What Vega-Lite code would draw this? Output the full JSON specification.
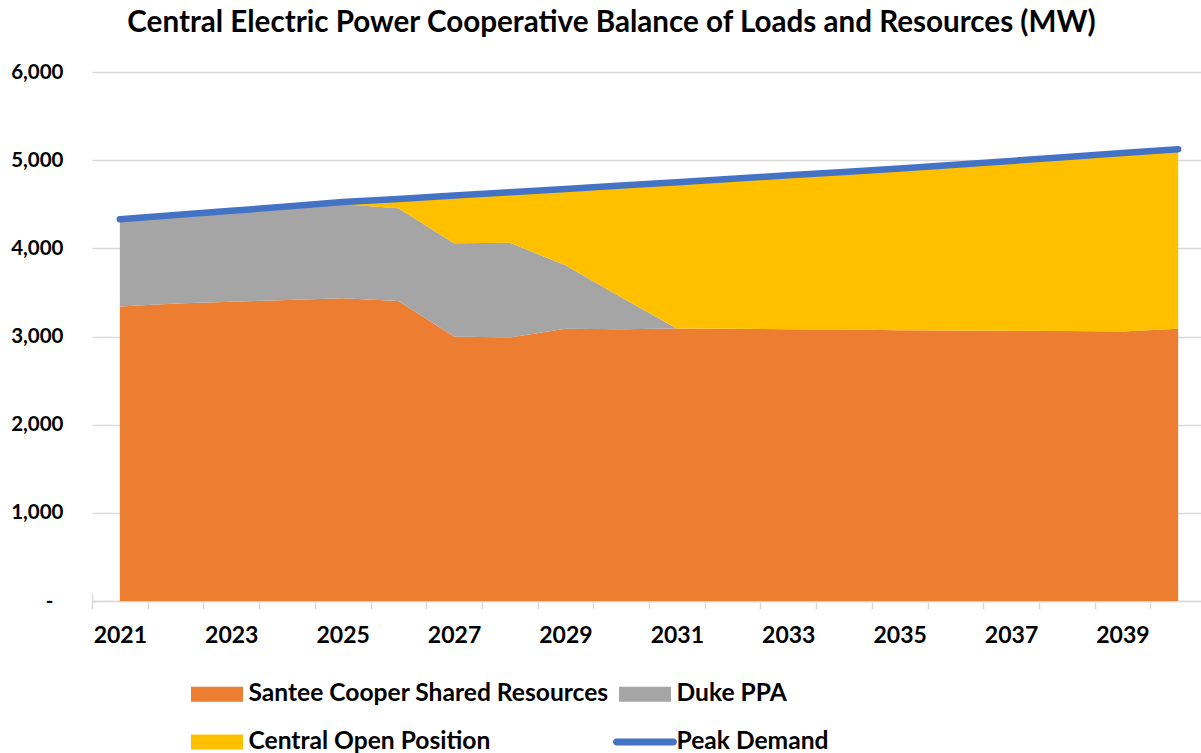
{
  "$schema": "https://vega.github.io/schema/vega-lite/v6.json",
  "width": 1109,
  "height": 529,
  "autosize": {"type": "none"},
  "padding": {"left": 92, "top": 72, "right": 0, "bottom": 152},
  "background": "white",
  "title": {
    "text": "Central Electric Power Cooperative Balance of Loads and Resources (MW)",
    "font": "Lato",
    "fontSize": 29.6,
    "fontWeight": "bold",
    "color": "#000000",
    "anchor": "middle",
    "baseline": "alphabetic",
    "dx": -35,
    "offset": 0
  },
  "config": {
    "view": {"stroke": null},
    "font": "Lato"
  },
  "datasets": {
    "areas": [
      {"year": 2021, "series": "Santee Cooper Shared Resources", "k": 1, "mw": 3341},
      {"year": 2022, "series": "Santee Cooper Shared Resources", "k": 1, "mw": 3375},
      {"year": 2023, "series": "Santee Cooper Shared Resources", "k": 1, "mw": 3395},
      {"year": 2024, "series": "Santee Cooper Shared Resources", "k": 1, "mw": 3415},
      {"year": 2025, "series": "Santee Cooper Shared Resources", "k": 1, "mw": 3433},
      {"year": 2026, "series": "Santee Cooper Shared Resources", "k": 1, "mw": 3402},
      {"year": 2027, "series": "Santee Cooper Shared Resources", "k": 1, "mw": 3000},
      {"year": 2028, "series": "Santee Cooper Shared Resources", "k": 1, "mw": 2989},
      {"year": 2029, "series": "Santee Cooper Shared Resources", "k": 1, "mw": 3087},
      {"year": 2030, "series": "Santee Cooper Shared Resources", "k": 1, "mw": 3083},
      {"year": 2031, "series": "Santee Cooper Shared Resources", "k": 1, "mw": 3090},
      {"year": 2032, "series": "Santee Cooper Shared Resources", "k": 1, "mw": 3088},
      {"year": 2033, "series": "Santee Cooper Shared Resources", "k": 1, "mw": 3083},
      {"year": 2034, "series": "Santee Cooper Shared Resources", "k": 1, "mw": 3078},
      {"year": 2035, "series": "Santee Cooper Shared Resources", "k": 1, "mw": 3072},
      {"year": 2036, "series": "Santee Cooper Shared Resources", "k": 1, "mw": 3068},
      {"year": 2037, "series": "Santee Cooper Shared Resources", "k": 1, "mw": 3064},
      {"year": 2038, "series": "Santee Cooper Shared Resources", "k": 1, "mw": 3062},
      {"year": 2039, "series": "Santee Cooper Shared Resources", "k": 1, "mw": 3058},
      {"year": 2040, "series": "Santee Cooper Shared Resources", "k": 1, "mw": 3088},
      {"year": 2021, "series": "Duke PPA", "k": 2, "mw": 989},
      {"year": 2022, "series": "Duke PPA", "k": 2, "mw": 1003},
      {"year": 2023, "series": "Duke PPA", "k": 2, "mw": 1030},
      {"year": 2024, "series": "Duke PPA", "k": 2, "mw": 1060},
      {"year": 2025, "series": "Duke PPA", "k": 2, "mw": 1067},
      {"year": 2026, "series": "Duke PPA", "k": 2, "mw": 1053},
      {"year": 2027, "series": "Duke PPA", "k": 2, "mw": 1059},
      {"year": 2028, "series": "Duke PPA", "k": 2, "mw": 1074},
      {"year": 2029, "series": "Duke PPA", "k": 2, "mw": 721},
      {"year": 2030, "series": "Duke PPA", "k": 2, "mw": 362},
      {"year": 2031, "series": "Duke PPA", "k": 2, "mw": 0},
      {"year": 2032, "series": "Duke PPA", "k": 2, "mw": 0},
      {"year": 2033, "series": "Duke PPA", "k": 2, "mw": 0},
      {"year": 2034, "series": "Duke PPA", "k": 2, "mw": 0},
      {"year": 2035, "series": "Duke PPA", "k": 2, "mw": 0},
      {"year": 2036, "series": "Duke PPA", "k": 2, "mw": 0},
      {"year": 2037, "series": "Duke PPA", "k": 2, "mw": 0},
      {"year": 2038, "series": "Duke PPA", "k": 2, "mw": 0},
      {"year": 2039, "series": "Duke PPA", "k": 2, "mw": 0},
      {"year": 2040, "series": "Duke PPA", "k": 2, "mw": 0},
      {"year": 2021, "series": "Central Open Position", "k": 3, "mw": 0},
      {"year": 2022, "series": "Central Open Position", "k": 3, "mw": 0},
      {"year": 2023, "series": "Central Open Position", "k": 3, "mw": 0},
      {"year": 2024, "series": "Central Open Position", "k": 3, "mw": 0},
      {"year": 2025, "series": "Central Open Position", "k": 3, "mw": 25},
      {"year": 2026, "series": "Central Open Position", "k": 3, "mw": 105},
      {"year": 2027, "series": "Central Open Position", "k": 3, "mw": 539},
      {"year": 2028, "series": "Central Open Position", "k": 3, "mw": 573},
      {"year": 2029, "series": "Central Open Position", "k": 3, "mw": 866},
      {"year": 2030, "series": "Central Open Position", "k": 3, "mw": 1267},
      {"year": 2031, "series": "Central Open Position", "k": 3, "mw": 1660},
      {"year": 2032, "series": "Central Open Position", "k": 3, "mw": 1701},
      {"year": 2033, "series": "Central Open Position", "k": 3, "mw": 1745},
      {"year": 2034, "series": "Central Open Position", "k": 3, "mw": 1788},
      {"year": 2035, "series": "Central Open Position", "k": 3, "mw": 1833},
      {"year": 2036, "series": "Central Open Position", "k": 3, "mw": 1880},
      {"year": 2037, "series": "Central Open Position", "k": 3, "mw": 1927},
      {"year": 2038, "series": "Central Open Position", "k": 3, "mw": 1973},
      {"year": 2039, "series": "Central Open Position", "k": 3, "mw": 2022},
      {"year": 2040, "series": "Central Open Position", "k": 3, "mw": 2037}
    ],
    "peak": [
      {"year": 2021, "series": "Peak Demand", "mw": 4330},
      {"year": 2022, "series": "Peak Demand", "mw": 4378},
      {"year": 2023, "series": "Peak Demand", "mw": 4425},
      {"year": 2024, "series": "Peak Demand", "mw": 4475},
      {"year": 2025, "series": "Peak Demand", "mw": 4525},
      {"year": 2026, "series": "Peak Demand", "mw": 4560},
      {"year": 2027, "series": "Peak Demand", "mw": 4598},
      {"year": 2028, "series": "Peak Demand", "mw": 4636},
      {"year": 2029, "series": "Peak Demand", "mw": 4674},
      {"year": 2030, "series": "Peak Demand", "mw": 4712},
      {"year": 2031, "series": "Peak Demand", "mw": 4750},
      {"year": 2032, "series": "Peak Demand", "mw": 4789},
      {"year": 2033, "series": "Peak Demand", "mw": 4828},
      {"year": 2034, "series": "Peak Demand", "mw": 4866},
      {"year": 2035, "series": "Peak Demand", "mw": 4905},
      {"year": 2036, "series": "Peak Demand", "mw": 4948},
      {"year": 2037, "series": "Peak Demand", "mw": 4991},
      {"year": 2038, "series": "Peak Demand", "mw": 5035},
      {"year": 2039, "series": "Peak Demand", "mw": 5080},
      {"year": 2040, "series": "Peak Demand", "mw": 5125}
    ]
  },
  "layer": [
    {
      "data": {"name": "areas"},
      "mark": {"type": "area", "interpolate": "linear", "opacity": 1},
      "encoding": {
        "x": {
          "field": "year",
          "type": "quantitative",
          "scale": {"domain": [2020.5, 2040.41], "nice": false, "zero": false},
          "axis": {
            "orient": "bottom",
            "title": null,
            "grid": false,
            "values": [2021, 2023, 2025, 2027, 2029, 2031, 2033, 2035, 2037, 2039],
            "labelExpr": "format(datum.value, 'd')",
            "domain": true,
            "domainColor": "#D9D9D9",
            "domainWidth": 1.5,
            "ticks": false,
            "tickSize": 0,
            "labelPadding": 23,
            "labelFont": "Lato",
            "labelFontSize": 23,
            "labelFontWeight": "bold",
            "labelColor": "#000000",
            "labelOverlap": false,
            "labelFlush": false
          }
        },
        "y": {
          "field": "mw",
          "type": "quantitative",
          "stack": "zero",
          "scale": {"domain": [0, 6000], "nice": false},
          "axis": {
            "title": null,
            "values": [0, 1000, 2000, 3000, 4000, 5000, 6000],
            "labelExpr": "datum.value == 0 ? '-' : format(datum.value, ',')",
            "domain": false,
            "ticks": false,
            "tickSize": 0,
            "labelPadding": {"condition": {"test": "datum.value == 0", "value": 39}, "value": 29},
            "labelFont": "Lato",
            "labelFontSize": 20.5,
            "labelFontWeight": "bold",
            "labelColor": "#000000",
            "grid": true,
            "gridColor": "#D9D9D9",
            "gridWidth": 1.5
          }
        },
        "color": {
          "field": "series",
          "type": "nominal",
          "scale": {
            "domain": ["Santee Cooper Shared Resources", "Duke PPA", "Central Open Position", "Peak Demand"],
            "range": ["#ED7D31", "#A5A5A5", "#FFC000", "#4472C4"]
          },
          "legend": {
            "orient": "none",
            "legendX": 99,
            "legendY": 596,
            "direction": "horizontal",
            "columns": 2,
            "title": null,
            "padding": 0,
            "labelFont": "Lato",
            "labelFontSize": 24.6,
            "labelFontWeight": "bold",
            "labelColor": "#000000",
            "labelOffset": 5.5,
            "labelLimit": 1000,
            "symbolSize": 2704,
            "symbolType": "square",
            "symbolStrokeWidth": 0,
            "symbolOpacity": 1,
            "rowPadding": 10,
            "columnPadding": 4,
            "encode": {
              "symbols": {
                "update": {
                  "shape": {"signal": "datum.value === 'Peak Demand' ? 'M-1.1,-0.13H1.1A0.13,0.13 0 0 1 1.1,0.13H-1.1A0.13,0.13 0 0 1 -1.1,-0.13Z' : 'M-1,-0.29H1V0.29H-1Z'"},
                  "fill": {"scale": "color", "field": "value"},
                  "strokeWidth": {"value": 0},
                  "opacity": {"value": 1}
                }
              }
            }
          }
        },
        "order": {"field": "k", "type": "quantitative"}
      }
    },
    {
      "data": {"name": "peak"},
      "mark": {"type": "line", "strokeWidth": 6.5, "strokeCap": "round", "strokeJoin": "round"},
      "encoding": {
        "x": {
          "field": "year",
          "type": "quantitative",
          "axis": {
            "orient": "bottom",
            "title": null,
            "grid": false,
            "values": [2020.5, 2021.5, 2022.5, 2023.5, 2024.5, 2025.5, 2026.5, 2027.5, 2028.5, 2029.5, 2030.5, 2031.5, 2032.5, 2033.5, 2034.5, 2035.5, 2036.5, 2037.5, 2038.5, 2039.5],
            "labels": false,
            "domain": false,
            "ticks": true,
            "tickSize": 16,
            "tickColor": "#D9D9D9",
            "tickWidth": 1.5,
            "offset": -8
          }
        },
        "y": {"field": "mw", "type": "quantitative"},
        "color": {"field": "series", "type": "nominal"}
      }
    }
  ],
  "resolve": {"axis": {"x": "independent"}}
}
